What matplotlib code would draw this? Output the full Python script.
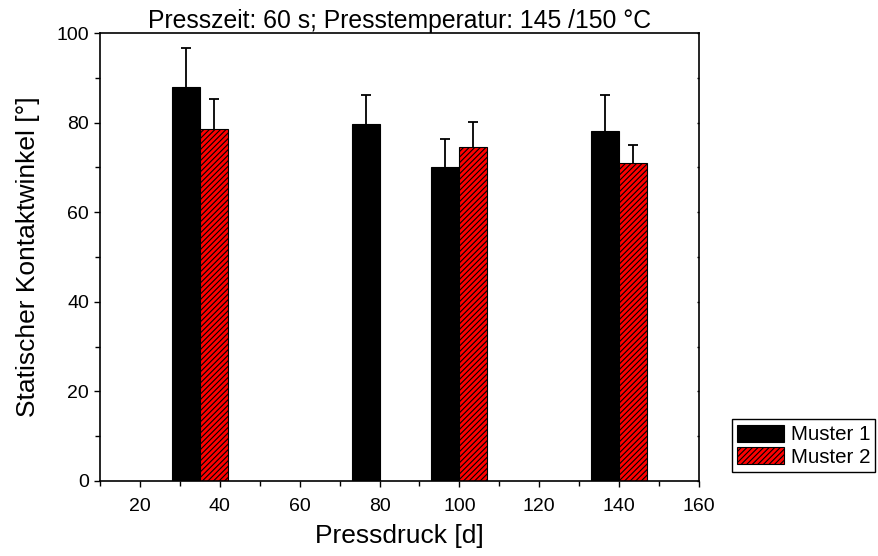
import numpy as np
import matplotlib
matplotlib.use("Agg")
import matplotlib.pyplot as plt
from matplotlib.ticker import MultipleLocator

plt.rcParams['font.family'] = ['Liberation Sans', 'DejaVu Sans']
plt.rcParams['hatch.linewidth'] = 0.8

# Pressdruck-Gruppen und Kontaktwinkel
druck_m1 = [35, 80, 100, 140]
winkel_m1 = [87.9, 79.6, 70.2, 78.1]
fehler_m1 = [8.7, 6.6, 6.1, 8.1]

druck_m2 = [35, 100, 140]
winkel_m2 = [78.6, 74.6, 71.0]
fehler_m2 = [6.7, 5.6, 4.1]

breite = 7

fig = plt.figure(figsize=(8.79, 5.56), dpi=100)
ax = fig.add_axes([0.1138, 0.1349, 0.6814, 0.8057])


def fehlerbalken(x, y, err):
    # nur nach oben, ohne unteren Querstrich
    _, caps, _ = ax.errorbar(x, y, yerr=[np.zeros(len(err)), err], fmt='none',
                             ecolor='black', elinewidth=1.3, capsize=3.3,
                             capthick=1.3, zorder=3)
    caps[0].set_visible(False)


ax.bar(druck_m1, winkel_m1, width=-breite, align='edge', color='black',
       edgecolor='black', linewidth=0.8, label='Muster 1', zorder=2)
fehlerbalken([d - breite / 2 for d in druck_m1], winkel_m1, fehler_m1)

ax.bar(druck_m2, winkel_m2, width=breite, align='edge', color='#ff0000',
       edgecolor='black', hatch='//////', linewidth=0.8, label='Muster 2', zorder=2)
fehlerbalken([d + breite / 2 for d in druck_m2], winkel_m2, fehler_m2)

ax.set_xlim(10, 160)
ax.set_ylim(0, 100)
ax.xaxis.set_major_locator(MultipleLocator(20))
ax.xaxis.set_minor_locator(MultipleLocator(10))
ax.yaxis.set_major_locator(MultipleLocator(20))
ax.yaxis.set_minor_locator(MultipleLocator(10))
ax.set_xticks([20, 40, 60, 80, 100, 120, 140, 160])
ax.tick_params(axis='both', which='major', direction='out', length=4.5, width=1,
               labelsize=14)
ax.tick_params(axis='both', which='minor', direction='out', length=3.5, width=1)
ax.tick_params(axis='x', which='major', pad=8)
ax.tick_params(axis='y', which='both', right=True, labelright=False)
ax.tick_params(top=False, which='both')

for s in ax.spines.values():
    s.set_linewidth(1.2)

ax.set_xlabel('Pressdruck [d]', fontsize=19, labelpad=6)
ax.set_ylabel('Statischer Kontaktwinkel [°]', fontsize=19, labelpad=12)
ax.text(0.5, 1.0, 'Presszeit: 60 s; Presstemperatur: 145 /150 °C',
        transform=ax.transAxes, ha='center', va='bottom', fontsize=17.8)

ax.legend(loc='lower left', bbox_to_anchor=(1.055, 0.02), fontsize=14.8,
          frameon=True, fancybox=False, edgecolor='black', framealpha=1,
          handlelength=2.3, handleheight=0.9, borderpad=0.25, labelspacing=0.15,
          handletextpad=0.3, borderaxespad=0)

# kleine Striche innen an der rechten Achse
for t in ax.yaxis.get_major_ticks() + ax.yaxis.get_minor_ticks():
    t.tick2line.set_marker(0)
    t.tick2line.set_markersize(1.5)

fig.savefig('out.png', dpi=100)
